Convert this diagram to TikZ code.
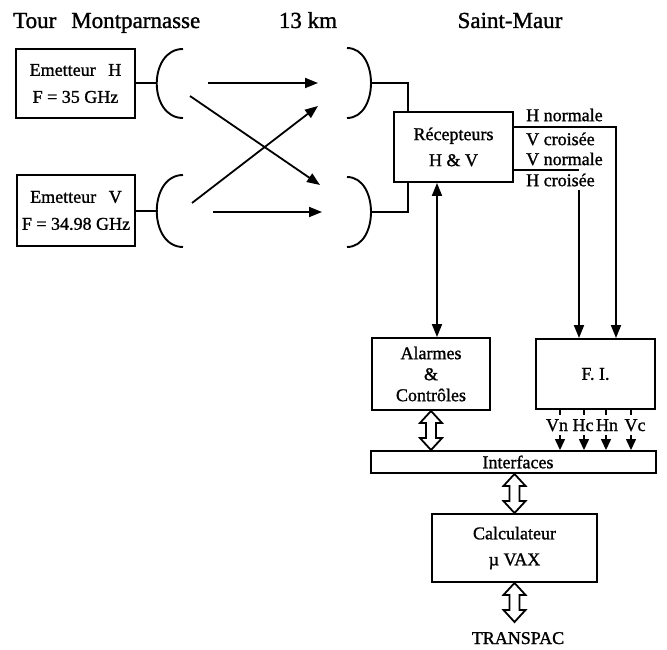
\documentclass[tikz,border=0pt]{standalone}
\usepackage{fontspec}
\setmainfont{Liberation Serif}[FakeBold=1.2]
\usetikzlibrary{arrows.meta,calc}
\newcommand{\hollowdarrow}[2]{%
  \draw[hollowarr] (#1) -- ($(#1)+(11,12)$) -- ($(#1)+(5,12)$) -- ($(#2)+(5,-12)$) -- ($(#2)+(11,-12)$) -- (#2) -- ($(#2)+(-11,-12)$) -- ($(#2)+(-5,-12)$) -- ($(#1)+(-5,12)$) -- ($(#1)+(-11,12)$) -- cycle;}
\begin{document}
\begin{tikzpicture}[x=1pt,y=-1pt,
  box/.style={draw, line width=1.9pt, align=center, inner sep=0pt, font=\fontsize{18}{27}\selectfont},
  title/.style={font=\fontsize{23}{28}\selectfont, inner sep=0pt, anchor=base},
  lbl/.style={font=\fontsize{18}{21}\selectfont, inner sep=0pt},
  wire/.style={line width=1.8pt},
  arr/.style={line width=1.8pt, -{Triangle[length=13pt,width=10pt]}},
  darr/.style={line width=1.8pt, {Triangle[length=13pt,width=10pt]}-{Triangle[length=13pt,width=10pt]}},
  smallarr/.style={line width=1.4pt, -{Triangle[length=11pt,width=10pt]}},
  hollowarr/.style={draw, line width=1.8pt, fill=white, line join=miter},
  antenna/.style={line width=1.9pt}
]
\useasboundingbox (0,0) rectangle (667,650);

% titles
\node[title, anchor=base west] (tTour) at (13,28) {Tour\hspace{0.65em}Montparnasse};
\node[title] (tKm) at (308,28) {13 km};
\node[title] (tSM) at (510,28) {Saint-Maur};

% emitters
\node[box, minimum width=119pt, minimum height=69pt] (emH) at (75.5,83.5) {Emetteur\hspace{0.7em}H\\F = 35 GHz};
\node[box, minimum width=118pt, minimum height=71pt] (emV) at (76,210.5) {Emetteur\hspace{0.7em}V\\F = 34.98 GHz};

% antennas
\coordinate (antHL) at (157,83);
\coordinate (antVL) at (158,211);
\coordinate (antHR) at (371,83);
\coordinate (antVR) at (371,212);
\draw[antenna] (183,49) .. controls (148,49) and (148,118) .. (183,118);
\draw[antenna] (183,175) .. controls (148,175) and (148,247) .. (183,247);
\draw[antenna] (347,48) .. controls (379,48) and (379,118) .. (347,118);
\draw[antenna] (347,177) .. controls (379,177) and (379,247) .. (347,247);

\draw[wire] (antHL -| emH.east) -- (antHL);
\draw[wire] (antVL -| emV.east) -- (antVL);

% propagation arrows
\coordinate (p1s) at (208,83);  \coordinate (p1e) at (318,83);
\coordinate (p2s) at (190,96);  \coordinate (p2e) at (320,185);
\coordinate (p3s) at (192,203); \coordinate (p3e) at (318,106);
\coordinate (p4s) at (213,212); \coordinate (p4e) at (322,212);
\draw[arr] (p1s) -- (p1e);
\draw[arr] (p2s) -- (p2e);
\draw[arr] (p3s) -- (p3e);
\draw[arr] (p4s) -- (p4e);

% receivers
\node[box, minimum width=119pt, minimum height=70pt, font=\fontsize{18}{26}\selectfont] (rec) at (453.5,147) {Récepteurs\\H \& V};
\coordinate (recin) at (408,0);
\draw[wire] (antHR) -| (rec.north -| recin);
\draw[wire] (antVR) -| (rec.south -| recin);

% output labels
\node[lbl, anchor=west] (lHn) at (526,115) {H normale};
\node[lbl, anchor=west] (lVc) at (526,139) {V croisée};
\node[lbl, anchor=west] (lVn) at (526,159) {V normale};
\node[lbl, anchor=west] (lHc) at (526,180) {H croisée};

% alarms and FI
\node[box, minimum width=118pt, minimum height=72pt, font=\fontsize{18}{21}\selectfont] (alarm) at (431,374) {Alarmes\\\&\\Contrôles};
\node[box, minimum width=119pt, minimum height=70pt] (fi) at (595.5,374) {F. I.};

\coordinate (hnx) at (616,127);
\coordinate (vnx) at (579,170);
\coordinate (hcx) at (579,190);
\draw[arr] (rec.east |- hnx) -| (fi.north -| hnx);
\draw[wire] (rec.east |- vnx) -- (vnx);
\draw[arr] (hcx) -- (fi.north -| hcx);

\coordinate (rax) at (437,0);
\draw[darr] (rec.south -| rax) -- (alarm.north -| rax);

% interfaces
\node[box, minimum width=285pt, minimum height=22pt] (intf) at (513.5,462) {\hspace{9pt}Interfaces};

% FI outputs
\foreach \x/\t/\lx in {560/Vn/557, 584/Hc/583, 606/Hn/607, 631/Vc/635}{
  \coordinate (tick\t) at (\x,415);
  \draw[wire] (fi.south -| tick\t) -- (tick\t);
  \node[lbl, anchor=base] (o\t) at (\lx,431) {\t};
  \coordinate (st\t) at (\x,435);
  \draw[smallarr] (st\t) -- (intf.north -| st\t);
}

% computer
\node[box, minimum width=165pt, minimum height=68pt, font=\fontsize{18}{26}\selectfont] (calc) at (514.5,548) {Calculateur\\µ VAX};
\node[lbl, anchor=base] (tp) at (518,644) {TRANSPAC};
\coordinate (tptop) at (516,622);

\coordinate (h1t) at (alarm.south);
\coordinate (h1b) at (intf.north -| alarm.south);
\hollowdarrow{h1t}{h1b}
\coordinate (h2t) at (intf.south -| calc.north);
\coordinate (h2b) at (calc.north);
\hollowdarrow{h2t}{h2b}
\coordinate (h3t) at (calc.south);
\coordinate (h3b) at (calc.south |- tptop);
\hollowdarrow{h3t}{h3b}
\end{tikzpicture}
\end{document}
